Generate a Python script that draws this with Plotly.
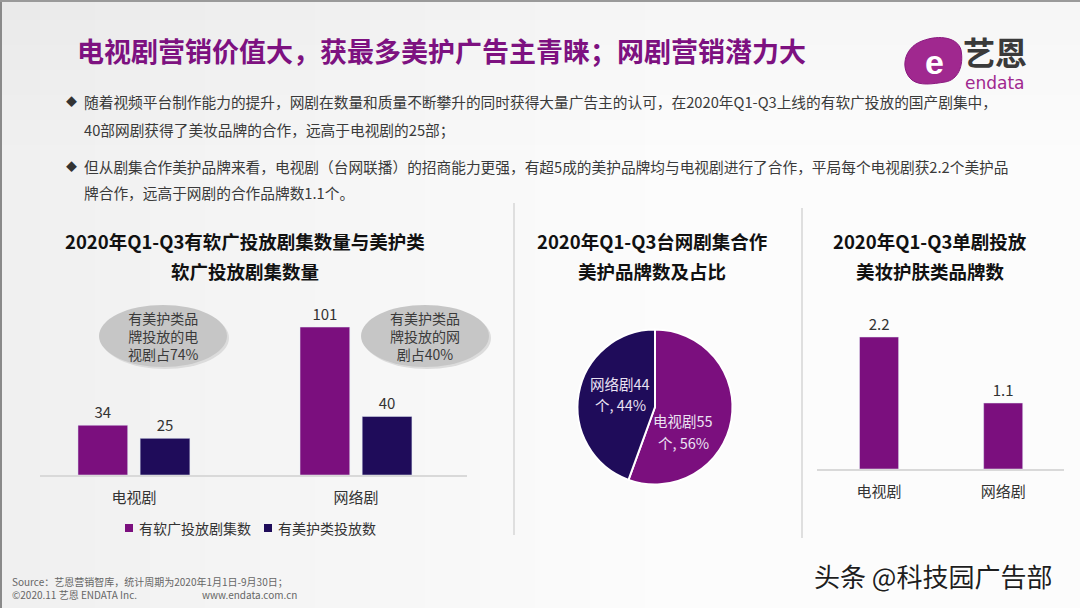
import plotly.graph_objects as go

W, H = 1080, 608
def px(x): return x / W
def py(y): return 1 - y / H

FONT = "Microsoft YaHei, Noto Sans CJK SC, sans-serif"
PURPLE = "#7B0F7E"
NAVY = "#1F0C5A"

# ---- data ----
categories = ["电视剧", "网络剧"]
series1_name = "有软广投放剧集数"
series1_vals = [34, 101]
series2_name = "有美护类投放数"
series2_vals = [25, 40]

pie_labels = ["电视剧", "网络剧"]
pie_vals = [55, 44]

brand_cats = ["电视剧", "网络剧"]
brand_vals = [2.2, 1.1]

ellipse_texts = ["有美护类品<br>牌投放的电<br>视剧占74%", "有美护类品<br>牌投放的网<br>剧占40%"]

fig = go.Figure()

fig.add_trace(go.Bar(x=categories, y=series1_vals, name=series1_name, marker_color=PURPLE,
                     text=series1_vals, textposition="outside", cliponaxis=False,
                     textfont=dict(size=15, color="#333333", family=FONT),
                     showlegend=False, xaxis="x", yaxis="y"))
fig.add_trace(go.Bar(x=categories, y=series2_vals, name=series2_name, marker_color=NAVY,
                     text=series2_vals, textposition="outside", cliponaxis=False,
                     textfont=dict(size=15, color="#333333", family=FONT),
                     showlegend=False, xaxis="x", yaxis="y"))
fig.add_trace(go.Bar(x=brand_cats, y=brand_vals, marker_color=PURPLE, showlegend=False,
                     text=[f"{v:.1f}" for v in brand_vals], textposition="outside", cliponaxis=False,
                     textfont=dict(size=15, color="#333333", family=FONT),
                     width=0.315, xaxis="x2", yaxis="y2"))

fig.add_trace(go.Pie(labels=pie_labels, values=pie_vals, sort=False, direction="clockwise",
                     rotation=0, marker=dict(colors=[PURPLE, NAVY], line=dict(color="white", width=2)),
                     textinfo="none", showlegend=False, hoverinfo="label+value+percent",
                     domain=dict(x=[px(577.5), px(732.5)], y=[py(484.5), py(329.5)])))

shapes = []
# background gradient
for k in range(12):
    shapes.append(dict(type="rect", xref="paper", yref="paper", x0=0, x1=px(40 + k * 55), y0=0, y1=1,
                       fillcolor="#c8c8c8", opacity=0.022, line_width=0, layer="below"))
for k in range(6):
    shapes.append(dict(type="rect", xref="paper", yref="paper", x0=0, x1=1, y0=py(20 + k * 25), y1=1,
                       fillcolor="#c8c8c8", opacity=0.022, line_width=0, layer="below"))
# frame
shapes.append(dict(type="line", xref="paper", yref="paper", x0=px(1), x1=px(1), y0=0, y1=1,
                   line=dict(color="#8a8a8a", width=2)))
shapes.append(dict(type="line", xref="paper", yref="paper", x0=0, x1=1, y0=py(1), y1=py(1),
                   line=dict(color="#9a9a9a", width=2)))
# separators
shapes.append(dict(type="line", xref="paper", yref="paper", x0=px(514), x1=px(514), y0=py(203), y1=py(535),
                   line=dict(color="#d6d6d6", width=1.5)))
shapes.append(dict(type="line", xref="paper", yref="paper", x0=px(802), x1=px(802), y0=py(208), y1=py(538),
                   line=dict(color="#d6d6d6", width=1.5)))
# ellipses
for cx in (163, 425):
    shapes.append(dict(type="circle", xref="paper", yref="paper", x0=px(cx - 64 + 2), x1=px(cx + 64 + 2),
                       y0=py(336 + 31 + 2), y1=py(336 - 31 + 2), fillcolor="#dcdcdc", line_width=0))
    shapes.append(dict(type="circle", xref="paper", yref="paper", x0=px(cx - 64), x1=px(cx + 64),
                       y0=py(336 + 31), y1=py(336 - 31), fillcolor="#c6c6c6", line_width=0))
# logo shape
shapes.append(dict(type="path", xref="paper", yref="paper",
                   path=(f"M {px(912)},{py(80)} C {px(900)},{py(70)} {px(903)},{py(48)} {px(922)},{py(41)} "
                         f"C {px(940)},{py(34)} {px(958)},{py(38)} {px(961)},{py(50)} "
                         f"C {px(964)},{py(66)} {px(958)},{py(80)} {px(945)},{py(82)} "
                         f"C {px(932)},{py(84)} {px(920)},{py(86)} {px(912)},{py(80)} Z"),
                   fillcolor="#A0288F", line=dict(color="#8B1A80", width=1)))

# legend squares (manual legend, built from series colours)
legend_items = [(series1_name, PURPLE, 125), (series2_name, NAVY, 264)]
for name, col, lx in legend_items:
    shapes.append(dict(type="rect", xref="paper", yref="paper", x0=px(lx), x1=px(lx + 8),
                       y0=py(532), y1=py(524), fillcolor=col, line_width=0))

ann = []
def text(x, y, s, size, color="#333333", bold=False, xanchor="left", yanchor="middle", **kw):
    if bold:
        s = f"<b>{s}</b>"
    ann.append(dict(xref="paper", yref="paper", x=px(x), y=py(y), text=s, showarrow=False,
                    xanchor=xanchor, yanchor=yanchor, align=kw.pop("align", "left"),
                    font=dict(size=size, color=color, family=kw.pop("family", FONT), **kw.pop("fontkw", {})), **kw))

text(75, 50, "电视剧营销价值大，获最多美护广告主青睐；网剧营销潜力大", 27, color="#7D1180", bold=True)
# logo text
text(934, 62, "e", 34, color="white", bold=True, xanchor="center", family="Arial, sans-serif")
text(961, 51, "艺恩", 32, color="#3a3a3a", bold=True)
text(963, 83, "endata", 17, color="#A0288F", family="Verdana, DejaVu Sans, sans-serif")

# bullets
text(64, 101, "◆", 11, color="#333333")
text(64, 166, "◆", 11, color="#333333")
BT = "#3a3a3a"
text(82, 101, "随着视频平台制作能力的提升，网剧在数量和质量不断攀升的同时获得大量广告主的认可，在2020年Q1-Q3上线的有软广投放的国产剧集中，", 14.7, color=BT)
text(82, 129, "40部网剧获得了美妆品牌的合作，远高于电视剧的25部；", 14.7, color=BT)
text(82, 166, "但从剧集合作美护品牌来看，电视剧（台网联播）的招商能力更强，有超5成的美护品牌均与电视剧进行了合作，平局每个电视剧获2.2个美护品", 14.7, color=BT)
text(82, 192, "牌合作，远高于网剧的合作品牌数1.1个。", 14.7, color=BT)

# chart titles
TC = "#111111"
text(245, 241, "2020年Q1-Q3有软广投放剧集数量与美护类", 18.5, color=TC, bold=True, xanchor="center")
text(245, 271, "软广投放剧集数量", 18.5, color=TC, bold=True, xanchor="center")
text(652, 241, "2020年Q1-Q3台网剧集合作", 18.5, color=TC, bold=True, xanchor="center")
text(652, 271, "美护品牌数及占比", 18.5, color=TC, bold=True, xanchor="center")
text(930, 241, "2020年Q1-Q3单剧投放", 18.5, color=TC, bold=True, xanchor="center")
text(930, 271, "美妆护肤类品牌数", 18.5, color=TC, bold=True, xanchor="center")

# ellipse text
text(163, 336, ellipse_texts[0], 14, color="#3a3a3a", xanchor="center", align="center")
text(425, 336, ellipse_texts[1], 14, color="#3a3a3a", xanchor="center", align="center")

# legend text
for name, col, lx in legend_items:
    text(lx + 12, 528, name, 14, color="#333333")

# pie labels (from data)
total = sum(pie_vals)
pie_pos = [(683, 420, 443), (620, 383, 405)]
for lab, v, (lx, y1, y2) in zip(pie_labels, pie_vals, pie_pos):
    text(lx, y1, f"{lab}{v}", 14.5, color="#EAE2F2", xanchor="center")
    text(lx, y2, f"个, {round(100 * v / total)}%", 14.5, color="#EAE2F2", xanchor="center")

# footer
FC = "#666666"
text(10, 588, "Source：艺恩营销智库，统计周期为2020年1月1日-9月30日；<br>©2020.11 艺恩 ENDATA Inc."
     + "&nbsp;" * 29 + "www.endata.com.cn", 10, color=FC)

# watermark
text(812, 575, "头条 @科技园广告部", 26, color="#1e1e1e",
     fontkw=dict(shadow="1px 1px 1px #ffffff, -1px -1px 1px #ffffff"))

fig.update_layout(
    width=W, height=H, margin=dict(l=0, r=0, t=0, b=0),
    paper_bgcolor="#fcfcfc", plot_bgcolor="rgba(0,0,0,0)",
    barmode="group", bargap=0.44, bargroupgap=0.2,
    font=dict(family=FONT, color="#333333"),
    shapes=shapes, annotations=ann,
    showlegend=False,
    xaxis=dict(domain=[px(40), px(467)], range=[-0.423, 1.5], type="category",
               showline=True, linecolor="#d9d9d9", linewidth=1.5, showgrid=False, zeroline=False,
               ticks="", tickfont=dict(size=15, color="#333333", family=FONT), ticklabelstandoff=8,
               fixedrange=True),
    yaxis=dict(domain=[py(475), py(475 - 110 * 1.465)], range=[0, 110], visible=False, fixedrange=True),
    xaxis2=dict(domain=[px(817), px(1064)], range=[-0.5, 1.49], type="category", anchor="y2",
                showline=True, linecolor="#d9d9d9", linewidth=1.5, showgrid=False, zeroline=False,
                ticks="", tickfont=dict(size=15, color="#333333", family=FONT), ticklabelstandoff=8,
                fixedrange=True),
    yaxis2=dict(domain=[py(469), py(469 - 2.6 * 60)], range=[0, 2.6], visible=False, anchor="x2",
                fixedrange=True),
)

fig.write_html("out.html")
